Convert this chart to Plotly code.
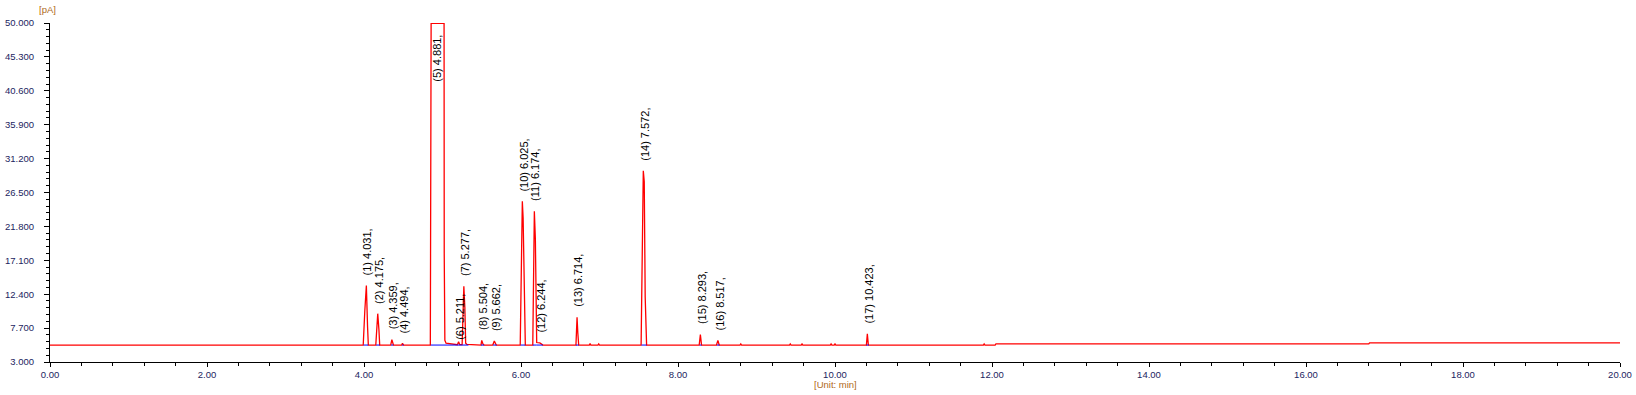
import plotly.graph_objects as go

# ---- data (time in min, signal in pA) ----
trace_time = [0.00, 3.24, 3.25, 3.26,
              3.99, 4.01, 4.03, 4.045, 4.055,
              4.15, 4.165, 4.175, 4.19, 4.20,
              4.34, 4.355, 4.375,
              4.48, 4.49, 4.505,
              4.845, 4.85, 4.855, 5.015, 5.02, 5.022, 5.03, 5.045, 5.15,
              5.19, 5.205, 5.22,
              5.25, 5.262, 5.272, 5.285, 5.295, 5.31, 5.45,
              5.49, 5.50, 5.515, 5.53,
              5.64, 5.66, 5.685,
              5.99, 6.003, 6.017, 6.027, 6.04, 6.055,
              6.15, 6.16, 6.17, 6.183, 6.193, 6.20,
              6.24, 6.26, 6.28,
              6.70, 6.708, 6.714, 6.724, 6.735,
              6.87, 6.88, 6.89, 6.98, 6.99, 7.00,
              7.53, 7.545, 7.558, 7.57, 7.582, 7.60,
              8.27, 8.285, 8.30,
              8.49, 8.508, 8.525,
              8.79, 8.80, 8.81,
              9.42, 9.43, 9.44, 9.57, 9.58, 9.59,
              9.94, 9.95, 9.96, 9.99, 10.00, 10.01,
              10.40, 10.412, 10.425,
              11.89, 11.90, 11.91,
              12.04, 12.05, 16.80, 16.81, 20.00]
trace_signal = [5.35, 5.35, 5.45, 5.35,
                5.35, 10.0, 13.6, 8.0, 5.35,
                5.35, 8.0, 9.7, 7.5, 5.35,
                5.35, 6.1, 5.35,
                5.35, 5.6, 5.35,
                5.35, 49.95, 49.95, 49.95, 49.95, 18.0, 6.0, 5.6, 5.5,
                5.4, 5.8, 5.4,
                5.4, 10.0, 13.5, 10.5, 5.6, 5.45, 5.4,
                5.35, 6.0, 5.5, 5.35,
                5.35, 5.9, 5.35,
                5.35, 17.0, 25.3, 23.0, 12.0, 5.35,
                5.35, 15.0, 23.9, 20.0, 11.0, 5.7,
                5.65, 5.5, 5.35,
                5.35, 8.0, 9.2, 7.0, 5.35,
                5.35, 5.55, 5.35, 5.35, 5.5, 5.35,
                5.35, 20.0, 29.5, 28.0, 12.0, 5.35,
                5.35, 6.8, 5.35,
                5.35, 6.0, 5.35,
                5.35, 5.5, 5.35,
                5.35, 5.5, 5.35, 5.35, 5.5, 5.35,
                5.35, 5.5, 5.35, 5.35, 5.5, 5.35,
                5.35, 6.9, 5.35,
                5.35, 5.5, 5.35,
                5.35, 5.5, 5.5, 5.65, 5.65]

peak_no = list(range(1, 18))
peak_rt = [4.031, 4.175, 4.359, 4.494, 4.881, 5.211, 5.277, 5.504, 5.662,
           6.025, 6.174, 6.244, 6.714, 7.572, 8.293, 8.517, 10.423]
peak_apex = [13.6, 9.7, 6.1, 5.6, 50.0, 5.8, 13.5, 6.0, 5.9,
             25.3, 23.9, 5.65, 9.2, 29.5, 6.8, 6.0, 6.9]
peak_start = [3.995, 4.155, 4.345, 4.485, 4.85, 5.19, 5.25, 5.49, 5.645,
              5.995, 6.15, 6.20, 6.70, 7.535, 8.275, 8.495, 10.40]
peak_end = [4.055, 4.20, 4.375, 4.505, 5.19, 5.25, 5.33, 5.53, 5.69,
            6.055, 6.20, 6.28, 6.735, 7.60, 8.30, 8.53, 10.43]
baseline_level = 5.35

y_ticks = [3.0, 7.7, 12.4, 17.1, 21.8, 26.5, 31.2, 35.9, 40.6, 45.3, 50.0]
x_ticks = [0, 2, 4, 6, 8, 10, 12, 14, 16, 18, 20]

fig = go.Figure()
fig.add_trace(go.Scatter(x=trace_time, y=trace_signal, mode="lines",
                         line=dict(color="#ff0000", width=1.3),
                         hoverinfo="skip", showlegend=False))

bx, by = [], []
for s, e in zip(peak_start, peak_end):
    bx += [s, e, None]
    by += [baseline_level, baseline_level, None]
fig.add_trace(go.Scatter(x=bx, y=by, mode="lines",
                         line=dict(color="#0000ff", width=1),
                         hoverinfo="skip", showlegend=False))

label_font = dict(family="Liberation Sans, Arial, sans-serif", size=11, color="#000000")
for n, rt, ap in zip(peak_no, peak_rt, peak_apex):
    txt = f"({n}) {rt:.3f},"
    if ap >= 50:
        fig.add_annotation(x=rt, y=50, text=txt, textangle=-90, showarrow=False,
                           xanchor="center", yanchor="top", yshift=-10, xshift=3,
                           font=label_font)
    else:
        ys = 0 if n == 6 else 8
        fig.add_annotation(x=rt, y=ap, text=txt, textangle=-90, showarrow=False,
                           xanchor="center", yanchor="bottom", yshift=ys, xshift=1,
                           font=label_font)

tick_font = dict(family="Liberation Sans, Arial, sans-serif", size=9.5, color="#1c2460")
unit_font = dict(family="Liberation Sans, Arial, sans-serif", size=9.5, color="#b06a1a")

fig.add_annotation(xref="paper", yref="paper", x=-0.0013, y=1.0, yshift=14,
                   text="[pA]", showarrow=False, xanchor="center", yanchor="middle",
                   font=unit_font)
fig.add_annotation(xref="paper", yref="paper", x=0.5, y=0, yshift=-22,
                   text="[Unit: min]", showarrow=False, xanchor="center", yanchor="middle",
                   font=unit_font)

fig.update_xaxes(range=[0, 20], tickvals=x_ticks,
                 ticktext=[f"{v:.2f}" for v in x_ticks], automargin=False,
                 showgrid=False, zeroline=False, showline=True, linecolor="#000000",
                 linewidth=1, ticks="outside", ticklen=4, tickcolor="#000000",
                 tickfont=tick_font,
                 minor=dict(ticks="outside", ticklen=3, tickcolor="#000000",
                            tick0=0, dtick=0.4, showgrid=False))
fig.update_yaxes(range=[3, 50], tickvals=y_ticks,
                 ticktext=[f"{v:.3f}" for v in y_ticks], automargin=False,
                 showgrid=False, zeroline=False, showline=True, linecolor="#000000",
                 linewidth=1, ticks="outside", ticklen=5, tickcolor="#000000",
                 tickfont=tick_font, ticklabelstandoff=8,
                 minor=dict(ticks="outside", ticklen=3, tickcolor="#000000",
                            tick0=3, dtick=0.94, showgrid=False))

fig.update_layout(width=1636, height=395, paper_bgcolor="#ffffff", plot_bgcolor="#ffffff",
                  margin=dict(l=50, r=16, t=23, b=33), showlegend=False)

fig.write_html("out.html", config={"displayModeBar": False},
               post_script="document.body.style.margin='0';document.body.style.overflow='hidden';")
